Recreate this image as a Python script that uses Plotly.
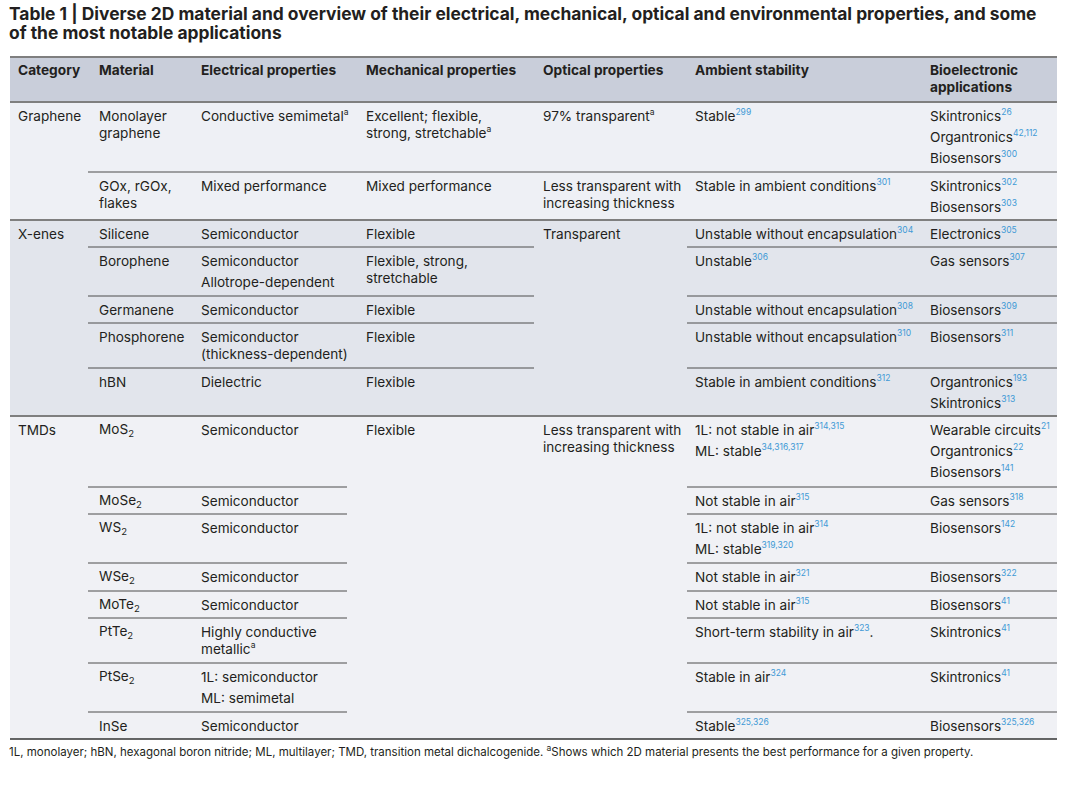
import re
import plotly.graph_objects as go

# ---------------- content ----------------
title_lines = [
    "Table 1 | Diverse 2D material and overview of their electrical, mechanical, optical and environmental properties, and some",
    "of the most notable applications",
]
headers = ["Category", "Material", "Electrical properties", "Mechanical properties",
           "Optical properties", "Ambient stability", "Bioelectronic<br>applications"]

categories = ["Graphene", "X-enes", "TMDs"]
category_first_row = [0, 2, 7]

materials = ["Monolayer<br>graphene", "GOx, rGOx,<br>flakes", "Silicene", "Borophene", "Germanene",
             "Phosphorene", "hBN", "MoS_2", "MoSe_2", "WS_2", "WSe_2", "MoTe_2", "PtTe_2",
             "PtSe_2", "InSe"]

electrical = [["Conductive semimetal{a}"], ["Mixed performance"], ["Semiconductor"],
              ["Semiconductor", "Allotrope-dependent"], ["Semiconductor"],
              ["Semiconductor<br>(thickness-dependent)"], ["Dielectric"], ["Semiconductor"],
              ["Semiconductor"], ["Semiconductor"], ["Semiconductor"], ["Semiconductor"],
              ["Highly conductive<br>metallic{a}"], ["1L: semiconductor", "ML: semimetal"],
              ["Semiconductor"]]

mechanical = ["Excellent; flexible,<br>strong, stretchable{a}", "Mixed performance", "Flexible",
              "Flexible, strong,<br>stretchable", "Flexible", "Flexible", "Flexible", "Flexible"]
mechanical_first_row = [0, 1, 2, 3, 4, 5, 6, 7]

optical = ["97% transparent{a}", "Less transparent with<br>increasing thickness", "Transparent",
           "Less transparent with<br>increasing thickness"]
optical_first_row = [0, 1, 2, 7]

ambient = [["Stable[299]"], ["Stable in ambient conditions[301]"],
           ["Unstable without encapsulation[304]"], ["Unstable[306]"],
           ["Unstable without encapsulation[308]"], ["Unstable without encapsulation[310]"],
           ["Stable in ambient conditions[312]"],
           ["1L: not stable in air[314,315]", "ML: stable[34,316,317]"],
           ["Not stable in air[315]"],
           ["1L: not stable in air[314]", "ML: stable[319,320]"],
           ["Not stable in air[321]"], ["Not stable in air[315]"],
           ["Short-term stability in air[323]."], ["Stable in air[324]"], ["Stable[325,326]"]]

applications = [["Skintronics[26]", "Organtronics[42,112]", "Biosensors[300]"],
                ["Skintronics[302]", "Biosensors[303]"],
                ["Electronics[305]"], ["Gas sensors[307]"], ["Biosensors[309]"], ["Biosensors[311]"],
                ["Organtronics[193]", "Skintronics[313]"],
                ["Wearable circuits[21]", "Organtronics[22]", "Biosensors[141]"],
                ["Gas sensors[318]"], ["Biosensors[142]"], ["Biosensors[322]"], ["Biosensors[41]"],
                ["Skintronics[41]"], ["Skintronics[41]"], ["Biosensors[325,326]"]]

footnote = ("1L, monolayer; hBN, hexagonal boron nitride; ML, multilayer; TMD, transition metal "
            "dichalcogenide. {a}Shows which 2D material presents the best performance for a given property.")

# ---------------- layout / style ----------------
W, H = 1080, 786
FONT = "Inter"
BODY = 13.6
HEAD = 13.7
TITLE = 17.4
FOOT = 11.5
REF_COLOR = "#3f9ad6"
TEXT_COLOR = "#231f20"
col_edges = [10, 88, 192, 347, 534, 687, 921, 1057]
col_text_x = [16, 97, 199, 364, 541, 693, 928]
header_top, header_bottom = 57, 102
row_tops = [102, 172, 220, 247, 296, 323, 368, 416, 487, 514, 563, 591, 618, 663, 712]
table_bottom = 739
section_fill = ["#eef0f5", "#e2e5ec", "#f0f1f5"]
header_fill = "#c9ceda"
FIRST_LINE = 14
LINE_H = 17
PARA_H = 21


def fmt(s):
    s = re.sub(r"\[([0-9,]+)\]",
               lambda m: f"<sup><span style='color:{REF_COLOR};font-size:8.5px'>{m.group(1)}</span></sup>", s)
    s = s.replace("{a}", "<sup><span style='font-size:8.5px'>a</span></sup>")
    s = re.sub(r"_(\d)", r"<sub>\1</sub>", s)
    return s


n_rows = len(materials)

fig = go.Figure()
fig.add_trace(go.Scatter(x=[0, W], y=[0, H], mode="markers", marker=dict(opacity=0),
                         hoverinfo="skip", showlegend=False))

shapes = []
annotations = []

# backgrounds
shapes.append(dict(type="rect", x0=col_edges[0], x1=col_edges[-1], y0=header_top, y1=header_bottom,
                   fillcolor=header_fill, line_width=0, layer="below"))
sec_bounds = [row_tops[r] for r in category_first_row] + [table_bottom]
for i in range(len(categories)):
    shapes.append(dict(type="rect", x0=col_edges[0], x1=col_edges[-1], y0=sec_bounds[i],
                       y1=sec_bounds[i + 1], fillcolor=section_fill[i], line_width=0, layer="below"))


def span_rows(first_rows, limit):
    spans = []
    for k, r in enumerate(first_rows):
        nxt = first_rows[k + 1] if k + 1 < len(first_rows) else limit
        spans.append((r, nxt))
    return spans


mech_spans = span_rows(mechanical_first_row, n_rows)
opt_spans = span_rows(optical_first_row, n_rows)


def merged_across(spans, boundary_row):
    return any(a < boundary_row < b for a, b in spans)


# inner row lines (inside sections)
for r in range(1, n_rows):
    if r in category_first_row:
        continue
    crosses = [False, True, True, not merged_across(mech_spans, r), not merged_across(opt_spans, r), True, True]
    c = 1
    while c < 7:
        if crosses[c]:
            start = c
            while c < 7 and crosses[c]:
                c += 1
            shapes.append(dict(type="line", x0=col_edges[start], x1=col_edges[c], y0=row_tops[r],
                               y1=row_tops[r], line=dict(color="#4d4d4d", width=1)))
        else:
            c += 1

# section lines
for y in [header_top, header_bottom] + [row_tops[r] for r in category_first_row[1:]]:
    shapes.append(dict(type="line", x0=col_edges[0], x1=col_edges[-1], y0=y, y1=y,
                       line=dict(color="#7f7f7f", width=2)))
shapes.append(dict(type="line", x0=col_edges[0], x1=col_edges[-1], y0=table_bottom, y1=table_bottom,
                   line=dict(color="#333333", width=1.5)))


def add_text(x, y, text, size=BODY, bold=False, color=TEXT_COLOR):
    if "<sup>" in text:
        y -= 1
    if bold:
        text = "<b>" + text + "</b>"
    annotations.append(dict(x=x, y=y, xref="x", yref="y", text=text, showarrow=False,
                            xanchor="left", yanchor="middle", align="left",
                            font=dict(family=FONT, size=size, color=color)))


def add_lines(x, y, text, size=BODY, bold=False):
    parts = text.split("<br>")
    for i, p in enumerate(parts):
        add_text(x, y + i * LINE_H, fmt(p), size=size, bold=bold)
    return len(parts)


def add_cell(col, row, paragraphs):
    y = row_tops[row] + FIRST_LINE
    for p in paragraphs:
        n = add_lines(col_text_x[col], y, p)
        y += LINE_H * (n - 1) + PARA_H


# title
add_text(7, 13, title_lines[0], size=TITLE, bold=True)
add_text(7, 32, title_lines[1], size=TITLE, bold=True)
# header
for c, h in enumerate(headers):
    add_lines(col_text_x[c], 70, h, size=HEAD, bold=True)

for i, cat in enumerate(categories):
    add_cell(0, category_first_row[i], [cat])
for r in range(n_rows):
    add_cell(1, r, [materials[r]])
    add_cell(2, r, electrical[r])
    add_cell(5, r, ambient[r])
    add_cell(6, r, applications[r])
for k, r in enumerate(mechanical_first_row):
    add_cell(3, r, [mechanical[k]])
for k, r in enumerate(optical_first_row):
    add_cell(4, r, [optical[k]])

add_text(7, 752, fmt(footnote), size=FOOT)

fig.update_layout(
    width=W, height=H, margin=dict(l=0, r=0, t=0, b=0),
    paper_bgcolor="white", plot_bgcolor="white",
    xaxis=dict(range=[0, W], visible=False, fixedrange=True),
    yaxis=dict(range=[H, 0], visible=False, fixedrange=True),
    shapes=shapes, annotations=annotations, showlegend=False,
)
fig.write_html("out.html", config={"displayModeBar": False},
               post_script="document.body.style.margin='0';document.body.style.overflow='hidden';")
